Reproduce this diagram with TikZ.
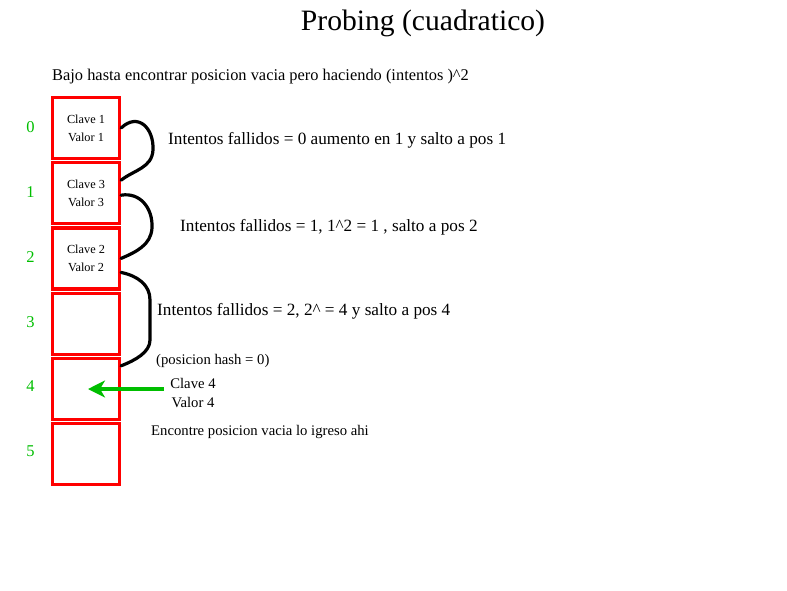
\documentclass[tikz,border=0pt]{standalone}
\usepackage{fontspec}
\setmainfont{Liberation Serif}
\usepackage{xcolor}
\usetikzlibrary{positioning,arrows.meta}
\definecolor{cellred}{RGB}{255,0,0}
\definecolor{idxgreen}{RGB}{0,190,0}

\begin{document}
\begin{tikzpicture}[
		x=1pt,y=-1pt,
		cell/.style={draw=cellred,line width=3.2pt,minimum width=67pt,minimum height=61pt,inner sep=0pt,align=center,font=\fontsize{12.3}{18}\selectfont},
		idx/.style={text=idxgreen,inner sep=0pt,font=\fontsize{16.5}{18}\selectfont},
		note/.style={anchor=west,inner sep=0pt,font=\fontsize{17.2}{18}\selectfont},
		small/.style={anchor=west,inner sep=0pt,font=\fontsize{14.7}{18}\selectfont},
		hop/.style={line width=3.2pt,line cap=round,line join=round},
		push/.style={draw=idxgreen,line width=3.5pt,-{Stealth[length=17pt,width=17pt,inset=5pt]}}
		]
		\useasboundingbox (0,0) rectangle (787,590);

		\node[font=\fontsize{29.6}{32}\selectfont] (title) at (423,23) {Probing (cuadratico)};
		\node[small,font=\fontsize{16.4}{18}\selectfont] (intro) at (52,77) {Bajo hasta encontrar posicion vacia pero haciendo (intentos )\^{}2};

		\node[cell] (c0) at (86,128) {Clave 1\\ Valor 1};
		\node[cell,below=1pt of c0] (c1) {Clave 3\\ Valor 3};
		\node[cell,below=1pt of c1] (c2) {Clave 2\\ Valor 2};
		\node[cell,below=1pt of c2] (c3) {};
		\node[cell,below=1pt of c3] (c4) {};
		\node[cell,below=1pt of c4] (c5) {};

		\node[idx,left=16pt of c0,yshift=1pt] (n0) {0};
		\node[idx,left=16pt of c1,yshift=1pt] (n1) {1};
		\node[idx,left=16pt of c2,yshift=1pt] (n2) {2};
		\node[idx,left=16pt of c3,yshift=1pt] (n3) {3};
		\node[idx,left=16pt of c4,yshift=3pt] (n4) {4};
		\node[idx,left=16pt of c5,yshift=3pt] (n5) {5};

		\node[note] (t0) at (168,140) {Intentos fallidos = 0 aumento en 1 y salto a pos 1};
		\node[note] (t1) at (180,227) {Intentos fallidos = 1, 1\^{}2 = 1 , salto a pos 2};
		\node[note] (t2) at (157,311) {Intentos fallidos = 2, 2\^{} = 4 y salto a pos 4};
		\node[small] (hash) at (156,361) {(posicion hash = 0)};
		\node[align=center,inner sep=0pt,font=\fontsize{14.7}{19}\selectfont] (k4) at (193,393) {Clave 4\\ Valor 4};
		\node[small] (done) at (151,432) {Encontre posicion vacia lo igreso ahi};

		\draw[hop] (c0.east) .. controls (138,112) and (154,128) .. (153,150)
			.. controls (152,168) and (134,170) .. ([yshift=13pt]c1.east);
		\draw[hop] ([yshift=-2pt]c1.east) .. controls (140,192) and (153,208) .. (152,228)
			.. controls (151,245) and (136,252) .. (c2.east);
		\draw[hop] ([yshift=-14pt]c2.east) .. controls (138,276) and (150,285) .. (150,300)
			-- (150,340) .. controls (150,352) and (136,360) .. ([yshift=23pt]c4.east);
		\draw[push] ([xshift=-6pt,yshift=4pt]k4.west) -- ([xshift=2pt,yshift=4pt]k4.west -| c4.center);

	\end{tikzpicture}
\end{document}
